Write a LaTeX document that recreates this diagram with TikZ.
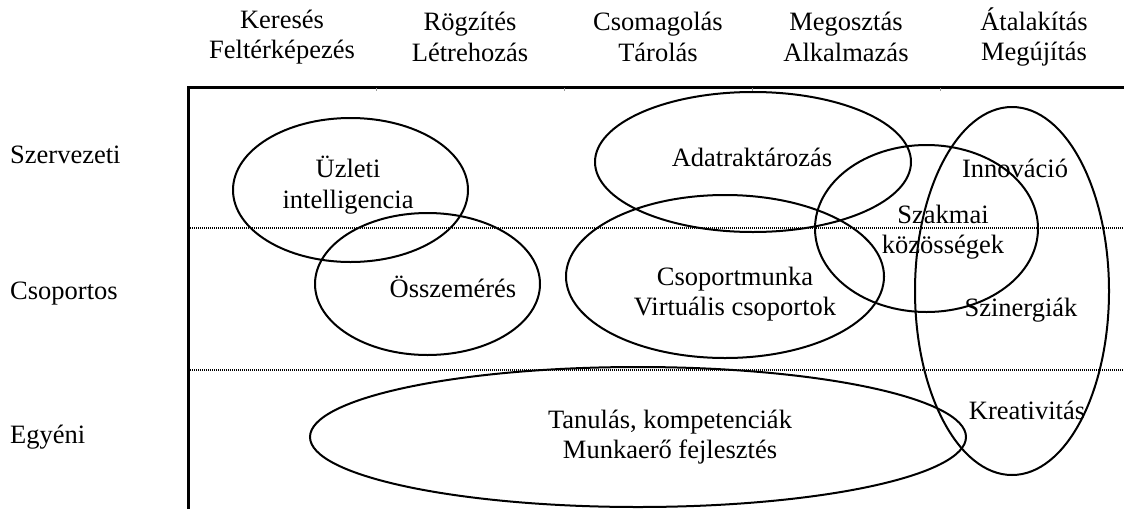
\documentclass[tikz,border=0pt]{standalone}
\usepackage{fontspec}
\setmainfont{Liberation Serif}
\begin{document}
\begin{tikzpicture}[x=1pt,y=-1pt,
  lbl/.style={font=\fontsize{26.5}{30.5}\selectfont, align=center, inner sep=0pt},
  rowlbl/.style={font=\fontsize{26.5}{30.5}\selectfont, anchor=west, inner sep=0pt},
  axis/.style={line width=3pt},
  level/.style={line width=2.5pt, dash pattern=on 1pt off 1pt},
  blob/.style={line width=2pt},
  tick/.style={line width=1pt, black!40}]
\useasboundingbox (0,0) rectangle (1124,509);

% frame: top and left axes
\draw[axis] (1124,87) -- (188,87) -- (188,509);
\foreach \x in {376,564,752,940} \draw[tick] (\x,88) -- (\x,91);

% level separators
\draw[level] (188,228) -- (1124,228);
\draw[level] (188,370) -- (1124,370);

% column headers
\node[lbl] (h1) at (282,37) {Keresés\\Feltérképezés};
\node[lbl] (h2) at (470,37) {Rögzítés\\Létrehozás};
\node[lbl] (h3) at (658,37) {Csomagolás\\Tárolás};
\node[lbl] (h4) at (846,37) {Megosztás\\Alkalmazás};
\node[lbl] (h5) at (1034,37) {Átalakítás\\Megújítás};

% row labels
\node[rowlbl] (r1) at (10,155) {Szervezeti};
\node[rowlbl] (r2) at (10,294) {Csoportos};
\node[rowlbl] (r3) at (10,437) {Egyéni};

% areas
\draw[blob] (350.5,190) ellipse [x radius=117.5pt, y radius=72pt];
\draw[blob] (753,162) ellipse [x radius=158pt, y radius=70pt];
\draw[blob] (926.5,228.5) ellipse [x radius=111.5pt, y radius=83.5pt];
\draw[blob] (1012,291) ellipse [x radius=97pt, y radius=184pt];
\draw[blob] (427.5,284) ellipse [x radius=112.5pt, y radius=71pt];
\draw[blob] (725,276.5) ellipse [x radius=159pt, y radius=81.5pt];
\draw[blob] (638,437) ellipse [x radius=328pt, y radius=70pt];

% area labels
\node[lbl] (t1) at (348,185) {Üzleti\\intelligencia};
\node[lbl] (t2) at (752,157) {Adatraktározás};
\node[lbl] (t3) at (943,232) {Szakmai\\közösségek};
\node[lbl] (t4) at (1015,168) {Innováció};
\node[lbl] (t5) at (1021,310) {Szinergiák};
\node[lbl] (t6) at (1027,410) {Kreativitás};
\node[lbl] (t7) at (453,287) {Összemérés};
\node[lbl] (t8) at (735,294) {Csoportmunka\\Virtuális csoportok};
\node[lbl] (t9) at (670,437) {Tanulás, kompetenciák\\Munkaerő fejlesztés};
\end{tikzpicture}
\end{document}
